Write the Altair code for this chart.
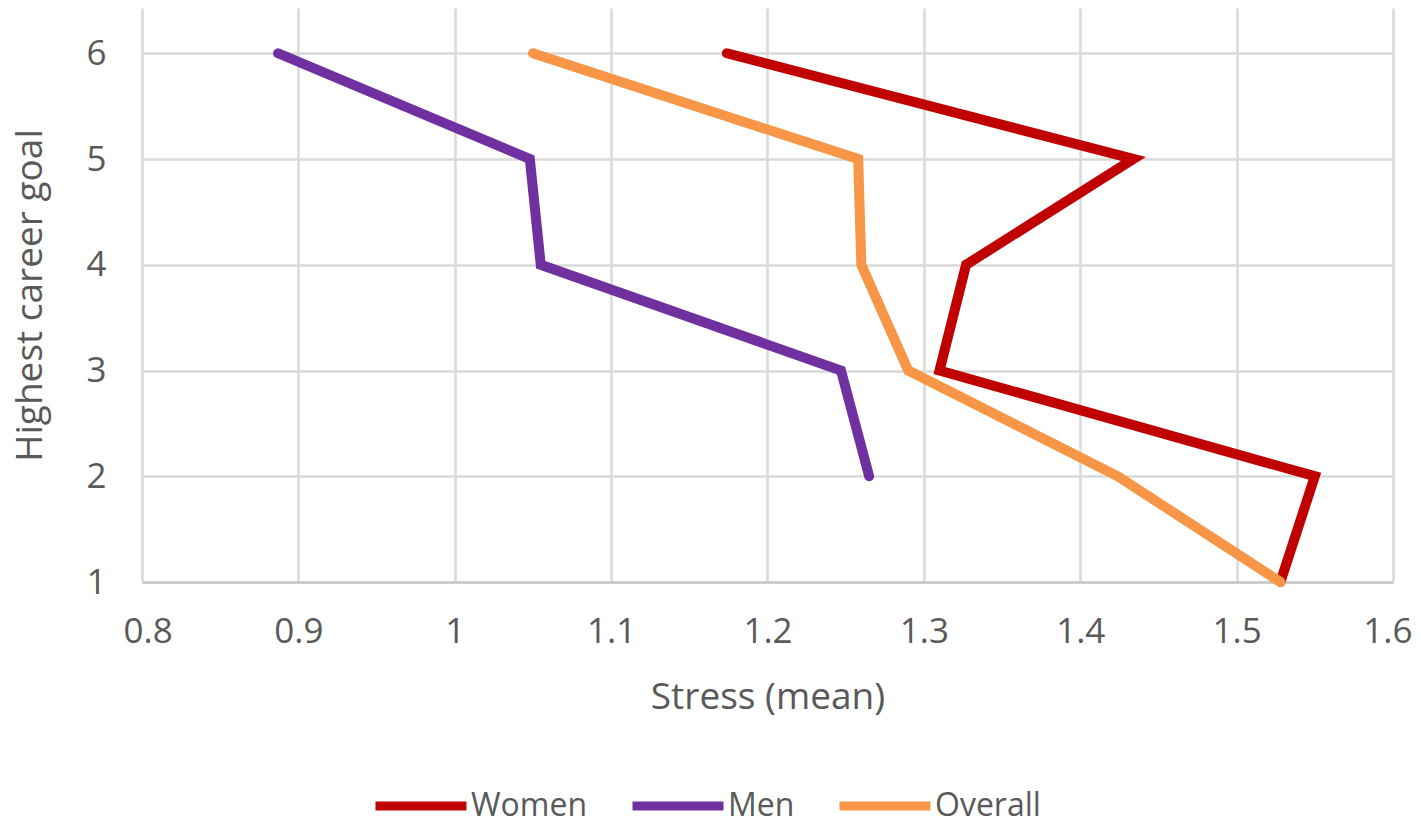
import altair as alt
import pandas as pd

goals = [6, 5, 4, 3, 2, 1]
women = [1.174, 1.434, 1.327, 1.310, 1.550, 1.528]
men = [0.887, 1.048, 1.055, 1.247, 1.265]
overall = [1.050, 1.258, 1.260, 1.290, 1.424, 1.528]

series = ["Women", "Men", "Overall"]
colors = ["#C00000", "#7030A0", "#F79646"]

rows = []
for name, vals in zip(series, [women, men, overall]):
    for g, v in zip(goals, vals):
        rows.append({"series": name, "goal": g, "stress": v})
df = pd.DataFrame(rows)

FONT = "Open Sans"
TXT = "#595959"

chart = (
    alt.Chart(df)
    .mark_line(strokeWidth=10, strokeCap="round", strokeJoin="miter")
    .encode(
        x=alt.X(
            "stress:Q",
            title="Stress (mean)",
            scale=alt.Scale(domain=[0.8, 1.6], nice=False, zero=False),
            axis=alt.Axis(
                values=[0.8, 0.9, 1.0, 1.1, 1.2, 1.3, 1.4, 1.5, 1.6],
                labelExpr="datum.value == 1 ? '1' : format(datum.value, '.1f')",
                ticks=False,
                labelFlush=True,
                labelFlushOffset=19,
                labelPadding=32,
                titlePadding=30,
                grid=True,
                domainColor="#C8C8C8",
                domainWidth=2.5,
            ),
        ),
        y=alt.Y(
            "goal:Q",
            title="Highest career goal",
            scale=alt.Scale(domain=[1, 6.428], nice=False, zero=False),
            axis=alt.Axis(
                values=[1, 2, 3, 4, 5, 6],
                ticks=False,
                domain=False,
                labelPadding=36,
                titlePadding=36,
                grid=True,
            ),
        ),
        color=alt.Color(
            "series:N",
            scale=alt.Scale(domain=series, range=colors),
            legend=alt.Legend(
                title=None,
                orient="none",
                direction="horizontal",
                legendX=229,
                legendY=748,
                symbolType="stroke",
                symbolSize=8281,
                symbolStrokeWidth=9,
                labelOffset=0,
                columnPadding=26,
                labelFontSize=32,
                labelFont=FONT,
                labelColor=TXT,
            ),
        ),
        order=alt.Order("goal:Q"),
    )
    .properties(
        width=1251,
        height=574,
        padding={"left": 134, "top": 0, "right": 20, "bottom": 239},
        autosize=alt.AutoSizeParams(type="none"),
    )
    .configure_axis(
        gridColor="#D9D9D9",
        gridWidth=2.5,
        labelFont=FONT,
        labelFontSize=35,
        labelColor=TXT,
        titleFont=FONT,
        titleFontSize=37,
        titleColor=TXT,
        titleFontWeight="normal",
    )
    .configure_view(stroke=None)
)

chart.save("out.html", embed_options={"renderer": "svg", "actions": False})
